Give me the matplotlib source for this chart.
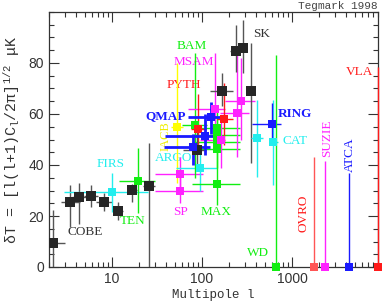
import numpy as np
import matplotlib
matplotlib.use('Agg')
import matplotlib.pyplot as plt
from matplotlib.ticker import MultipleLocator, FixedLocator, FuncFormatter, LogLocator, NullFormatter

# ---- data ----
# each experiment: multipole, dT, top/bottom of error bar, l-range
cobe_ell = [2.2, 3.4, 4.3, 5.8, 8.2, 11.8, 16.8, 25.8]
cobe_dT = [9.4, 25.4, 27.3, 28.0, 25.6, 22.1, 30.2, 31.9]
cobe_top = [22.4, 32.0, 33.0, 32.0, 29.0, 25.5, 32.5, 48.5]
cobe_bot = [0.0, 15.5, 17.0, 23.5, 22.0, 18.5, 25.6, 0.0]
cobe_ell_lo = [2.0, 2.7, 3.6, 4.9, 6.6, 10.4, 15.0, 22.0]
cobe_ell_hi = [3.0, 4.4, 5.3, 7.0, 10.0, 13.4, 19.0, 30.0]

sk_ell = [87, 165, 237, 283, 346]
sk_dT = [46.0, 69.0, 84.7, 85.8, 69.0]
sk_top = [54.0, 76.0, 95.0, 97.0, 87.7]
sk_bot = [40.0, 63.0, 76.6, 76.0, 40.6]
sk_ell_lo = [62, 123, 205, 250, 313]
sk_ell_hi = [110, 220, 265, 320, 390]

firs_ell = [10.0]
firs_dT = [29.3]
firs_top = [37.0]
firs_bot = [21.7]
firs_ell_lo = [2.9]
firs_ell_hi = [25.0]

ten_ell = [19.6]
ten_dT = [33.8]
ten_top = [46.5]
ten_bot = [21.0]
ten_ell_lo = [12.0]
ten_ell_hi = [30.0]

bam_ell = [84]
bam_dT = [55.7]
bam_top = [84.0]
bam_bot = [35.0]
bam_ell_lo = [60]
bam_ell_hi = [115]

iacb_ell = [53]
iacb_dT = [55.0]
iacb_top = [80.0]
iacb_bot = [33.0]
iacb_ell_lo = [45]
iacb_ell_hi = [62]

sp_ell = [57, 57]
sp_dT = [36.3, 29.9]
sp_top = [43.0, 36.0]
sp_bot = [30.0, 25.0]
sp_ell_lo = [30, 30]
sp_ell_hi = [103, 103]

argo_ell = [95]
argo_dT = [39.0]
argo_top = [48.0]
argo_bot = [30.0]
argo_ell_lo = [52]
argo_ell_hi = [146]

qmap_ell = [80, 108, 126]
qmap_dT = [46.9, 51.4, 58.7]
qmap_top = [52.0, 60.0, 64.8]
qmap_bot = [40.0, 44.0, 52.0]
qmap_ell_lo = [38, 39, 70]
qmap_ell_hi = [123, 139, 190]

pyth_ell = [91, 176]
pyth_dT = [54.0, 58.0]
pyth_top = [68.0, 72.0]
pyth_bot = [46.0, 48.0]
pyth_ell_lo = [75, 146]
pyth_ell_hi = [110, 220]

msam_ell = [139, 161, 246, 271]
msam_dT = [62.0, 50.0, 60.5, 65.0]
msam_top = [84.0, 58.0, 83.0, 82.0]
msam_bot = [52.0, 39.0, 43.0, 50.0]
msam_ell_lo = [70, 94, 160, 180]
msam_ell_hi = [180, 180, 330, 390]

max_ell = [146, 146, 146, 146, 146]
max_dT = [54.4, 51.8, 48.9, 46.3, 32.5]
max_top = [62.0, 58.0, 56.0, 54.0, 42.0]
max_bot = [47.0, 45.0, 42.0, 39.0, 24.3]
max_ell_lo = [77, 77, 77, 77, 77]
max_ell_hi = [264, 264, 264, 264, 264]

cat_ell = [405, 617]
cat_dT = [50.7, 48.9]
cat_top = [65.5, 65.5]
cat_bot = [35.4, 32.2]
cat_ell_lo = [350, 570]
cat_ell_hi = [470, 700]

ring_ell = [593]
ring_dT = [55.9]
ring_top = [64.2]
ring_bot = [49.1]
ring_ell_lo = [357]
ring_ell_hi = [759]

# upper limits (square at zero, bar up to the limit)
lim_names = ['WD', 'OVRO', 'SUZIE', 'ATCA', 'VLA']
lim_ell = [659, 1730, 2350, 4330, 9000]
lim_top = [83.0, 43.3, 41.7, 36.7, 78.5]

C_DARK = '#262626'
C_GREEN = '#11ee11'
C_MAG = '#ff22ff'
C_BLUE = '#1a1aff'
C_CYAN = '#22eeee'
C_RED = '#ff1a1a'
C_YEL = '#ffff00'

plt.rcParams['mathtext.fontset'] = 'custom'
plt.rcParams['mathtext.rm'] = 'Liberation Mono'
plt.rcParams['mathtext.it'] = 'Liberation Mono'

fig = plt.figure(figsize=(3.82, 3.05), dpi=100)
ax = fig.add_axes([49 / 382, 1 - 267 / 305, 329 / 382, 255 / 305])


def draw(ell, dT, top, bot, llo, lhi, color, ecolor=None, lw=1.0, ms=6):
    ell = np.array(ell, float)
    dT = np.array(dT, float)
    yerr = [dT - np.array(bot), np.array(top) - dT]
    xerr = [ell - np.array(llo), np.array(lhi) - ell]
    ax.errorbar(ell, dT, yerr=yerr, xerr=xerr, fmt='s', color=color,
                ecolor=ecolor or color, ms=ms, mew=0, lw=lw,
                capsize=2.5, capthick=0.8, zorder=3)


draw(cobe_ell, cobe_dT, cobe_top, cobe_bot, cobe_ell_lo, cobe_ell_hi, C_DARK, '#555555', ms=6.5)
draw(firs_ell, firs_dT, firs_top, firs_bot, firs_ell_lo, firs_ell_hi, C_CYAN)
draw(ten_ell, ten_dT, ten_top, ten_bot, ten_ell_lo, ten_ell_hi, C_GREEN)
draw(iacb_ell, iacb_dT, iacb_top, iacb_bot, iacb_ell_lo, iacb_ell_hi, C_YEL)
draw(sp_ell, sp_dT, sp_top, sp_bot, sp_ell_lo, sp_ell_hi, C_MAG)
draw(argo_ell, argo_dT, argo_top, argo_bot, argo_ell_lo, argo_ell_hi, C_CYAN)
draw(max_ell, max_dT, max_top, max_bot, max_ell_lo, max_ell_hi, C_GREEN)
draw(bam_ell, bam_dT, bam_top, bam_bot, bam_ell_lo, bam_ell_hi, C_GREEN)
draw(msam_ell, msam_dT, msam_top, msam_bot, msam_ell_lo, msam_ell_hi, C_MAG)
draw(pyth_ell, pyth_dT, pyth_top, pyth_bot, pyth_ell_lo, pyth_ell_hi, C_RED)
draw(sk_ell, sk_dT, sk_top, sk_bot, sk_ell_lo, sk_ell_hi, C_DARK, '#555555', ms=6.5)
draw(cat_ell, cat_dT, cat_top, cat_bot, cat_ell_lo, cat_ell_hi, C_CYAN)
draw(ring_ell, ring_dT, ring_top, ring_bot, ring_ell_lo, ring_ell_hi, C_BLUE)
draw(qmap_ell, qmap_dT, qmap_top, qmap_bot, qmap_ell_lo, qmap_ell_hi, C_BLUE, lw=2.0)

lim_colors = [C_GREEN, '#ff5555', C_MAG, C_BLUE, C_RED]
for name, l, t, c in zip(lim_names, lim_ell, lim_top, lim_colors):
    ax.errorbar([l], [0], yerr=[[0], [t]], fmt='s', color=c, ms=6, mew=0,
                lw=1.0, capsize=2.5, capthick=0.8, zorder=3, clip_on=False)

# experiment labels
serif = 'Liberation Serif'
lab = dict(family=serif, fontsize=9.5, ha='center', va='center', zorder=1)
ax.text(5.0, 13.7, 'COBE', color='#333333', **lab)
ax.text(9.6, 40.4, 'FIRS', color=C_CYAN, **lab)
ax.text(16.9, 18.0, 'TEN', color=C_GREEN, **lab)
ax.text(57.7, 21.6, 'SP', color=C_MAG, **lab)
ax.text(145, 21.6, 'MAX', color=C_GREEN, **lab)
ax.text(48, 42.7, 'ARGO', color=C_CYAN, **lab)
ax.text(39.5, 51.5, 'IACB', color='#eeee00', rotation=90,
        **dict(lab, fontsize=9))
ax.text(39.3, 59.2, 'QMAP', color=C_BLUE, fontweight='bold', **lab)
ax.text(62.3, 71.4, 'PYTH', color=C_RED, **lab)
ax.text(81.5, 80.4, 'MSAM', color=C_MAG, **lab)
ax.text(76.4, 86.7, 'BAM', color=C_GREEN, **lab)
ax.text(464, 91.4, 'SK', color='#333333', **lab)
ax.text(1080, 60.0, 'RING', color=C_BLUE, fontweight='bold', **lab)
ax.text(1067, 49.4, 'CAT', color=C_CYAN, **lab)
ax.text(415, 5.5, 'WD', color=C_GREEN, **lab)
ax.text(1325, 21.2, 'OVRO', color=C_RED, rotation=90, **lab)
ax.text(2450, 50.6, 'SUZIE', color=C_MAG, rotation=90, **lab)
ax.text(4390, 43.9, 'ATCA', color=C_BLUE, rotation=90, **lab)
ax.text(5623, 76.5, 'VLA', color=C_RED, **lab)

# axes
ax.set_xscale('log')
ax.set_xlim(2, 9000)
ax.set_ylim(0, 100)
ax.xaxis.set_major_locator(FixedLocator([10, 100, 1000]))
ax.xaxis.set_major_formatter(FuncFormatter(lambda v, p: '%d' % v))
ax.xaxis.set_minor_locator(LogLocator(base=10, subs=np.arange(2, 10)))
ax.xaxis.set_minor_formatter(NullFormatter())
ax.yaxis.set_major_locator(FixedLocator([0, 20, 40, 60, 80]))
ax.yaxis.set_minor_locator(MultipleLocator(5))
ax.tick_params(which='both', direction='in', top=True, right=True,
               color='#333333', labelcolor='#333333', labelsize=10, width=0.8)
ax.tick_params(which='major', length=7)
ax.tick_params(which='minor', length=3.5)
for lbl in ax.get_xticklabels() + ax.get_yticklabels():
    lbl.set_family('Liberation Sans')
for s in ax.spines.values():
    s.set_color('#333333')
    s.set_linewidth(0.9)

mono = 'Liberation Mono'
ax.set_xlabel('Multipole l', family=mono, fontsize=9, color='#333333', labelpad=2)
ax.set_ylabel(r'δT = [l(l+1)C$_l$/2π]$^{1/2}$ μK', family=mono, fontsize=10.8,
              color='#333333', labelpad=5)
fig.text(0.988, 0.997, 'Tegmark 1998', family=mono, fontsize=8,
         color='#444444', ha='right', va='top')

fig.savefig('out.png', dpi=100)
